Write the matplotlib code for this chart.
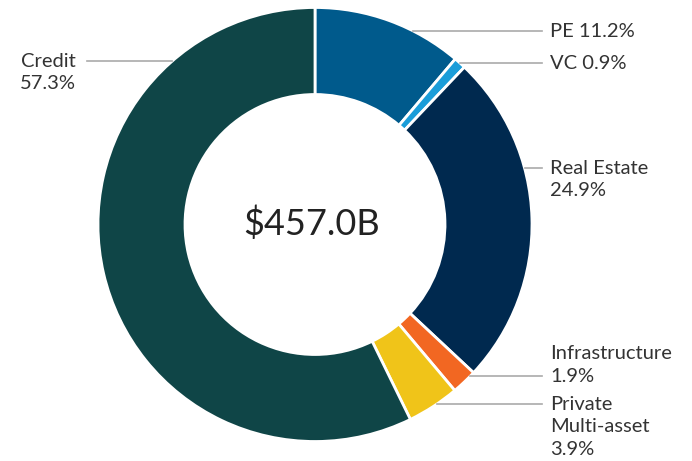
import numpy as np
import matplotlib
matplotlib.use("Agg")
import matplotlib.pyplot as plt

# allocation par classe d'actifs
labels = ["PE", "VC", "Real Estate", "Infrastructure", "Private\nMulti-asset", "Credit"]
values = [11.2, 0.9, 24.9, 1.9, 3.9, 57.3]
colors = ["#005a8c", "#1a9dd9", "#00294f", "#f26722", "#f0c419", "#0f4547"]
total_text = "$457.0B"

W, H = 692, 461
cx, cy = 315, H - 224.5
R, R_IN = 217, 130
FONT = ["Lato", "DejaVu Sans"]

fig = plt.figure(figsize=(W / 100, H / 100), dpi=100)
ax = fig.add_axes([0, 0, 1, 1])

ax.pie(values, colors=colors, startangle=90, counterclock=False,
       center=(cx, cy), radius=R,
       wedgeprops=dict(width=R - R_IN, edgecolor="white", linewidth=2))
ax.set_xlim(0, W)
ax.set_ylim(0, H)
ax.set_aspect("equal")
ax.axis("off")

ax.text(cx - 3, cy + 1, total_text, ha="center", va="center", fontsize=26,
        family=FONT, color="#222222")

# (y du trait en pixels depuis le haut, côté, ligne du texte reliée au trait)
label_pos = [(31, 1, 0), (63, 1, 0), (168, 1, 0), (376, 1, 1), (404, 1, 0), (61, -1, 0)]
txt_x_right, txt_x_left = 550, 48
line_end_right, line_end_left = 542, 87
line_h = 22.8

for (lbl, v), (ypix, side, anchor_line) in zip(zip(labels, values), label_pos):
    y = H - ypix
    dy = abs(y - cy)
    xe = cx + side * np.sqrt(R ** 2 - dy ** 2)
    if side > 0:
        ax.plot([xe, line_end_right], [y, y], color="#aaaaaa", lw=1.2)
    else:
        ax.plot([line_end_left, xe], [y, y], color="#aaaaaa", lw=1.2)
    if lbl in ("PE", "VC"):
        lines = [f"{lbl} {v}%"]
    else:
        lines = lbl.split("\n") + [f"{v}%"]
    for i, s in enumerate(lines):
        yy = y + (anchor_line - i) * line_h
        ax.text(txt_x_right if side > 0 else txt_x_left, yy, s,
                ha="left" if side > 0 else "center", va="center",
                fontsize=14.5, family=FONT, color="#333333")

fig.savefig("out.png", dpi=100)
